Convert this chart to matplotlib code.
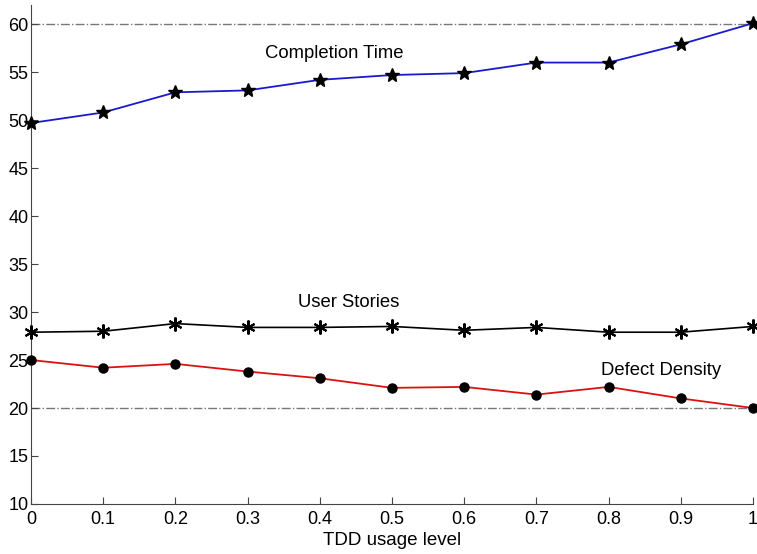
import matplotlib
matplotlib.use("Agg")
import matplotlib.pyplot as plt

x_levels = [0, 0.1, 0.2, 0.3, 0.4, 0.5, 0.6, 0.7, 0.8, 0.9, 1.0]
completion_time = [49.7, 50.8, 52.9, 53.1, 54.2, 54.7, 54.9, 56.0, 56.0, 57.9, 60.1]
user_stories = [27.9, 28.0, 28.8, 28.4, 28.4, 28.5, 28.1, 28.4, 27.9, 27.9, 28.5]
defect_density = [25.0, 24.2, 24.6, 23.8, 23.1, 22.1, 22.2, 21.4, 22.2, 21.0, 20.0]
ref_lines = [60, 20]
x_ticks = [0, 0.1, 0.2, 0.3, 0.4, 0.5, 0.6, 0.7, 0.8, 0.9, 1]
x_tick_labels = ["0", "0.1", "0.2", "0.3", "0.4", "0.5", "0.6", "0.7", "0.8", "0.9", "1"]
y_ticks = [10, 15, 20, 25, 30, 35, 40, 45, 50, 55, 60]

plt.rcParams['font.family'] = ['Liberation Sans', 'DejaVu Sans']

fig = plt.figure(figsize=(7.57, 5.54), dpi=100)
ax = fig.add_axes([0.041, 0.0903, 0.9537, 0.9007])

for r in ref_lines:
    ax.axhline(r, color='#777777', linestyle='-.', linewidth=1.0, zorder=1)

ax.plot(x_levels, completion_time, color='#1a1acc', linewidth=1.3, marker='*',
        markersize=10, markerfacecolor='black', markeredgecolor='black', zorder=3,
        clip_on=False)
ax.plot(x_levels, user_stories, color='black', linewidth=1.2, marker=(6, 2, 0),
        markersize=10, markeredgewidth=1.5, markeredgecolor='black', zorder=3,
        clip_on=False)
ax.plot(x_levels, defect_density, color='#dd1111', linewidth=1.3, marker='o',
        markersize=6.5, markerfacecolor='black', markeredgecolor='black', zorder=3,
        clip_on=False)

ax.text(0.42, 56.9, "Completion Time", fontsize=13.3, ha='center', va='center')
ax.text(0.44, 31.0, "User Stories", fontsize=13.3, ha='center', va='center')
ax.text(0.872, 23.9, "Defect Density", fontsize=13.3, ha='center', va='center')

ax.set_xlim(0, 1)
ax.set_ylim(10, 62)
ax.set_xticks(x_ticks)
ax.set_xticklabels(x_tick_labels)
ax.set_yticks(y_ticks)
ax.tick_params(direction='in', length=5, labelsize=13, width=0.8, color='#444444')
ax.tick_params(axis='x', pad=5)
ax.tick_params(axis='y', pad=2)
ax.spines['top'].set_visible(False)
ax.spines['right'].set_visible(False)
ax.spines['left'].set_color('#444444')
ax.spines['bottom'].set_color('#444444')
ax.set_xlabel("TDD usage level", fontsize=13.5, labelpad=3)

fig.savefig("out.png", dpi=100)
